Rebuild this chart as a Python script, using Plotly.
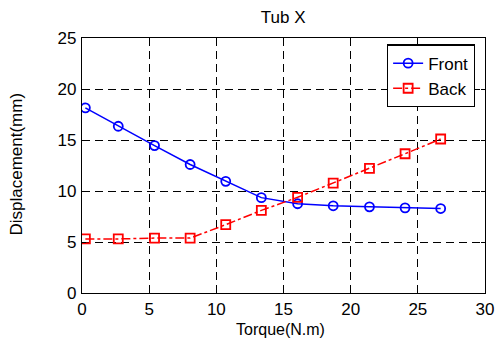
import plotly.graph_objects as go

torque = [0.25, 2.7, 5.4, 8.05, 10.7, 13.35, 16.05, 18.7, 21.4, 24.05, 26.7]
front = [18.15, 16.35, 14.45, 12.6, 10.95, 9.35, 8.75, 8.55, 8.45, 8.35, 8.28]
back = [5.3, 5.3, 5.38, 5.38, 6.7, 8.1, 9.38, 10.78, 12.22, 13.65, 15.1]

x_ticks = [0, 5, 10, 15, 20, 25, 30]
y_ticks = [0, 5, 10, 15, 20, 25]

FONT = "Liberation Sans, Arial, sans-serif"

fig = go.Figure()
fig.add_trace(go.Scatter(
    x=torque, y=front, name="Front", mode="lines+markers",
    line=dict(color="#0000ff", width=1.5, dash="solid"),
    marker=dict(symbol="circle-open", size=9, color="#0000ff", line=dict(width=1.8, color="#0000ff")),
))
fig.add_trace(go.Scatter(
    x=torque, y=back, name="Back", mode="lines+markers",
    line=dict(color="#ff0000", width=1.5, dash="dashdot"),
    marker=dict(symbol="square-open", size=9, color="#ff0000", line=dict(width=1.8, color="#ff0000")),
))

axis_common = dict(
    showline=True, linecolor="black", linewidth=1.2, mirror="ticks",
    ticks="inside", ticklen=4, tickcolor="black", tickwidth=1,
    showgrid=True, gridcolor="black", gridwidth=1, griddash="8px,5px",
    zeroline=False, tickfont=dict(family=FONT, size=17, color="black"),
    automargin=False,
)

fig.update_xaxes(range=[0, 30], tickvals=x_ticks, ticktext=[str(v) for v in x_ticks],
                 ticklabelstandoff=0, **axis_common)
fig.update_yaxes(range=[0, 25], tickvals=y_ticks, ticktext=[str(v) for v in y_ticks],
                 ticklabelstandoff=1, **axis_common)

fig.add_annotation(text="Torque(N.m)", xref="paper", yref="paper", x=0.493, y=-0.143,
                   xanchor="center", yanchor="middle", showarrow=False,
                   font=dict(family=FONT, size=16, color="black"))
fig.add_annotation(text="Displacement(mm)", xref="paper", yref="paper", x=-0.163, y=0.505,
                   xanchor="center", yanchor="middle", textangle=-90, showarrow=False,
                   font=dict(family=FONT, size=17, color="black"))

fig.update_layout(
    width=503, height=341,
    margin=dict(l=82, r=18, t=38, b=48),
    paper_bgcolor="white", plot_bgcolor="white",
    title=dict(text="Tub X", x=0.563, xanchor="center", y=0.95, yanchor="middle",
               font=dict(family=FONT, size=17, color="black")),
    legend=dict(
        x=0.975, xanchor="right", y=0.975, yanchor="top",
        bgcolor="white", bordercolor="black", borderwidth=1.2,
        font=dict(family=FONT, size=17, color="black"),
        tracegroupgap=0, itemwidth=30,
    ),
    showlegend=True,
)

fig.write_html("out.html", config={"displayModeBar": False},
               post_script="document.body.style.margin='0';document.body.style.overflow='hidden';")
